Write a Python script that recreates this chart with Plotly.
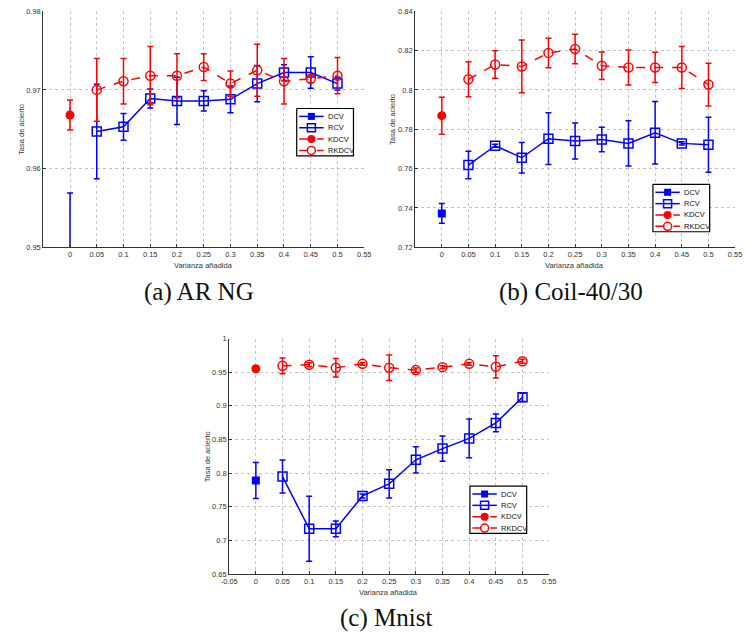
import plotly.graph_objects as go

# ---------------- data ----------------
x_var = [0.05, 0.1, 0.15, 0.2, 0.25, 0.3, 0.35, 0.4, 0.45, 0.5]
x_zero = [0]

# (a) AR NG
a_dcv = [0.9450]
a_dcv_err = [0.0119]
a_kdcv = [0.9668]
a_kdcv_err = [0.0019]
a_rcv = [0.9647, 0.9653, 0.9689, 0.9686, 0.9686, 0.9688, 0.9708, 0.9722, 0.9722, 0.9708]
a_rcv_err = [0.0060, 0.0017, 0.0012, 0.0030, 0.0013, 0.0017, 0.0023, 0.0010, 0.0020, 0.0008]
a_rkdcv = [0.9700, 0.9711, 0.9718, 0.9718, 0.9729, 0.9708, 0.9725, 0.9711, 0.9714, 0.9718]
a_rkdcv_err = [0.0040, 0.0029, 0.0037, 0.0028, 0.0017, 0.0016, 0.0033, 0.0029, 0.0005, 0.0023]

# (b) Coil-40/30
b_dcv = [0.7372]
b_dcv_err = [0.0050]
b_kdcv = [0.7869]
b_kdcv_err = [0.0094]
b_rcv = [0.7618, 0.7716, 0.7655, 0.7752, 0.7740, 0.7748, 0.7728, 0.7782, 0.7728, 0.7721]
b_rcv_err = [0.0070, 0.0008, 0.0077, 0.0132, 0.0092, 0.0062, 0.0115, 0.0159, 0.0008, 0.0140]
b_rkdcv = [0.8054, 0.8129, 0.8119, 0.8188, 0.8208, 0.8123, 0.8114, 0.8114, 0.8114, 0.8027]
b_rkdcv_err = [0.0089, 0.0070, 0.0134, 0.0075, 0.0075, 0.0070, 0.0089, 0.0077, 0.0107, 0.0109]

# (c) Mnist
c_dcv = [0.7891]
c_dcv_err = [0.0268]
c_kdcv = [0.9551]
c_kdcv_err = [0.0015]
c_rcv = [0.7950, 0.7174, 0.7174, 0.7662, 0.7842, 0.8199, 0.8365, 0.8516, 0.8746, 0.9126]
c_rcv_err = [0.0244, 0.0483, 0.0117, 0.0030, 0.0210, 0.0195, 0.0186, 0.0288, 0.0132, 0.0060]
c_rkdcv = [0.9595, 0.9610, 0.9566, 0.9624, 0.9566, 0.9531, 0.9575, 0.9624, 0.9580, 0.9663]
c_rkdcv_err = [0.0117, 0.0030, 0.0137, 0.0020, 0.0190, 0.0030, 0.0020, 0.0020, 0.0166, 0.0030]

series_names = ["DCV", "RCV", "KDCV", "RKDCV"]
x_ticks_ab = [0, 0.05, 0.1, 0.15, 0.2, 0.25, 0.3, 0.35, 0.4, 0.45, 0.5, 0.55]
x_ticks_c = [-0.05] + x_ticks_ab
y_ticks_a = [0.95, 0.96, 0.97, 0.98]
y_ticks_b = [0.72, 0.74, 0.76, 0.78, 0.80, 0.82, 0.84]
y_ticks_c = [0.65, 0.70, 0.75, 0.80, 0.85, 0.90, 0.95, 1.0]
captions = ["(a) AR NG", "(b) Coil-40/30", "(c) Mnist"]
x_title = "Varianza añadida"
y_title = "Tasa de acierto"

# ---------------- figure ----------------
W, H = 748, 640
BLUE = "#0000FF"
RED = "#FF0000"

fig = go.Figure()

panels = [
    dict(dcv=a_dcv, dcve=a_dcv_err, kdcv=a_kdcv, kdcve=a_kdcv_err,
         rcv=a_rcv, rcve=a_rcv_err, rk=a_rkdcv, rke=a_rkdcv_err,
         xa="x", ya="y", leg=(294, 106)),
    dict(dcv=b_dcv, dcve=b_dcv_err, kdcv=b_kdcv, kdcve=b_kdcv_err,
         rcv=b_rcv, rcve=b_rcv_err, rk=b_rkdcv, rke=b_rkdcv_err,
         xa="x2", ya="y2", leg=(658, 183)),
    dict(dcv=c_dcv, dcve=c_dcv_err, kdcv=c_kdcv, kdcve=c_kdcv_err,
         rcv=c_rcv, rcve=c_rcv_err, rk=c_rkdcv, rke=c_rkdcv_err,
         xa="x3", ya="y3", leg=(471, 489)),
]


def err(arr, color):
    return dict(type="data", array=arr, visible=True, color=color,
                thickness=1.5, width=3)


styles = [
    dict(line=dict(color=BLUE, width=1.5), marker=dict(symbol="square", size=8, color=BLUE)),
    dict(line=dict(color=BLUE, width=1.5), marker=dict(symbol="square-open", size=9, color=BLUE,
                                                       line=dict(width=1.5, color=BLUE))),
    dict(line=dict(color=RED, width=1.5, dash="dash"), marker=dict(symbol="circle", size=9, color=RED)),
    dict(line=dict(color=RED, width=1.5, dash="dash"), marker=dict(symbol="circle-open", size=9, color=RED,
                                                                   line=dict(width=1.5, color=RED))),
]

for p in panels:
    common = dict(xaxis=p["xa"], yaxis=p["ya"], showlegend=False, mode="lines+markers")
    series = [(x_zero, p["dcv"], p["dcve"]), (x_var, p["rcv"], p["rcve"]),
              (x_zero, p["kdcv"], p["kdcve"]), (x_var, p["rk"], p["rke"])]
    for (xs, ys, es), st, nm in zip(series, styles, series_names):
        fig.add_trace(go.Scatter(x=xs, y=ys, name=nm, error_y=err(es, st["line"]["color"]),
                                 line=st["line"], marker=st["marker"], **common))

# ---------- compact MATLAB-style legends drawn on a pixel overlay axis ----------
LEG_W, LEG_H = 58, 48
ROW_Y = [8, 19.5, 31, 42.5]
annotations = []
leg_font = dict(family="Liberation Sans, Arial, sans-serif", size=7.5, color="#111111")
leg_marker_size = [7, 8, 8, 8]
for p in panels:
    lx, ly = p["leg"]
    fig.add_trace(go.Scatter(
        x=[lx, lx + LEG_W, lx + LEG_W, lx, lx], y=[ly, ly, ly + LEG_H, ly + LEG_H, ly],
        mode="lines", fill="toself", fillcolor="white", line=dict(color="black", width=1.2),
        xaxis="x4", yaxis="y4", showlegend=False, hoverinfo="skip"))
    for ry, st, nm, ms in zip(ROW_Y, styles, series_names, leg_marker_size):
        yy = ly + ry
        fig.add_trace(go.Scatter(
            x=[lx + 2.5, lx + 27.5], y=[yy, yy], mode="lines", line=st["line"],
            xaxis="x4", yaxis="y4", showlegend=False, hoverinfo="skip"))
        fig.add_trace(go.Scatter(
            x=[lx + 15], y=[yy], mode="markers", marker=st["marker"] | dict(size=ms),
            xaxis="x4", yaxis="y4", showlegend=False, hoverinfo="skip"))
        annotations.append(dict(text=nm, x=(lx + 30) / W, y=1 - yy / H, xref="paper", yref="paper",
                                showarrow=False, font=leg_font, xanchor="left", yanchor="middle"))


def px_x(px):
    return px / W


def px_y(py):
    return 1 - py / H


tick_font = dict(family="Liberation Sans, Arial, sans-serif", size=7.5, color="#333333")
GRID = dict(showgrid=True, gridcolor="#b4b4b4", griddash="dot", gridwidth=0.8)


def xaxis(dom, ticks, labels, anchor):
    return dict(domain=dom, range=[-0.05, 0.55], tickvals=ticks, ticktext=labels, anchor=anchor,
                showline=True, linecolor="#333333", linewidth=1,
                ticks="inside", ticklen=3, tickcolor="#333333",
                zeroline=False, tickfont=tick_font, fixedrange=True, **GRID)


def yaxis(dom, rng, ticks, labels, anchor):
    return dict(domain=dom, range=rng, tickvals=ticks, ticktext=labels, anchor=anchor,
                showline=True, linecolor="#333333", linewidth=1,
                ticks="inside", ticklen=3, tickcolor="#333333",
                zeroline=False, tickfont=tick_font, fixedrange=True, **GRID)


def fmt(v):
    return ("%.2f" % v).rstrip("0").rstrip(".")


ya_dom = [px_y(246.7), px_y(7.3)]
yc_dom = [px_y(578.3), px_y(339.3)]

fig.update_layout(
    width=W, height=H,
    margin=dict(l=0, r=0, t=0, b=0),
    paper_bgcolor="white", plot_bgcolor="rgba(0,0,0,0)",
    xaxis=xaxis([px_x(35), px_x(363)], x_ticks_ab, [fmt(v) for v in x_ticks_ab], "y"),
    yaxis=yaxis(ya_dom, [0.95, 0.98], y_ticks_a, [fmt(v) for v in y_ticks_a], "x"),
    xaxis2=xaxis([px_x(415), px_x(742)], x_ticks_ab, [fmt(v) for v in x_ticks_ab], "y2"),
    yaxis2=yaxis(ya_dom, [0.72, 0.84], y_ticks_b, [fmt(v) for v in y_ticks_b], "x2"),
    xaxis3=xaxis([px_x(225), px_x(552)], x_ticks_c, [fmt(v) for v in x_ticks_c], "y3"),
    yaxis3=yaxis(yc_dom, [0.65, 1.0], y_ticks_c, [fmt(v) for v in y_ticks_c], "x3"),
    xaxis4=dict(domain=[0, 1], range=[0, W], visible=False, fixedrange=True, anchor="y4"),
    yaxis4=dict(domain=[0, 1], range=[H, 0], visible=False, fixedrange=True, anchor="x4"),
    showlegend=False,
)

ann_font = dict(family="Liberation Sans, Arial, sans-serif", size=7.5, color="#333333")
cap_font = dict(family="Liberation Serif, Times New Roman, serif", size=25, color="#111111")

for (xc, yc) in [(199, 265), (578, 265), (388, 597)]:
    annotations.append(dict(text=x_title, x=px_x(xc), y=px_y(yc), xref="paper", yref="paper",
                            showarrow=False, font=ann_font, xanchor="center", yanchor="middle"))
for (xc, yc) in [(12, 127), (392, 117), (203, 459)]:
    annotations.append(dict(text=y_title, x=px_x(xc), y=px_y(yc), xref="paper", yref="paper",
                            showarrow=False, font=ann_font, textangle=-90,
                            xanchor="center", yanchor="middle"))
for txt, (xc, yc) in zip(captions, [(194, 292), (574, 292), (385, 623)]):
    annotations.append(dict(text=txt, x=px_x(xc), y=px_y(yc), xref="paper", yref="paper",
                            showarrow=False, font=cap_font, xanchor="center", yanchor="middle"))
fig.update_layout(annotations=annotations)

fig.write_html("out.html", config={"displayModeBar": False, "staticPlot": True},
               post_script="document.body.style.margin='0px';document.body.style.padding='0px';")
